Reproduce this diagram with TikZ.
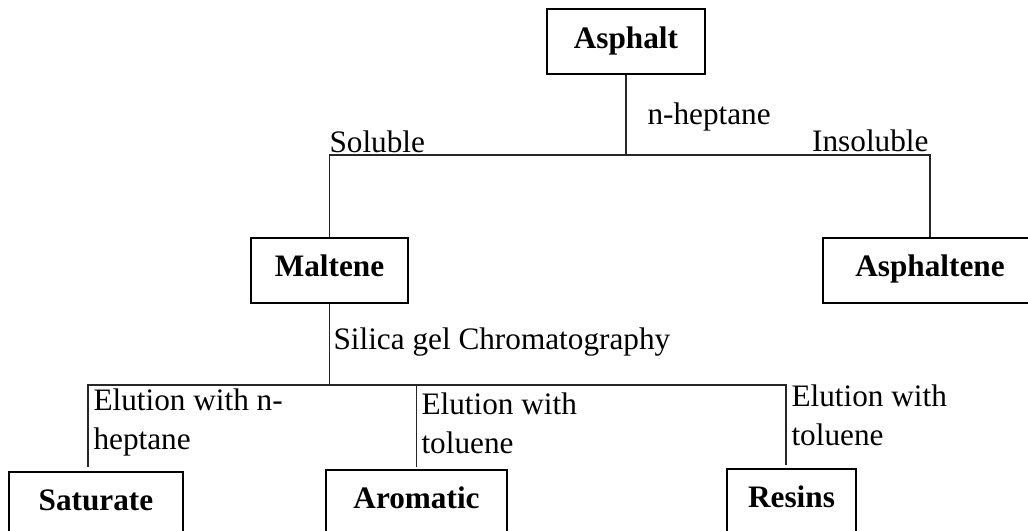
\documentclass[tikz,border=0pt]{standalone}
\usepackage{fontspec}
\setmainfont{Liberation Serif}
\usepackage{tikz}
\usetikzlibrary{calc}
\tikzset{fracbox/.style={draw, line width=0.8pt, minimum height=26pt, inner sep=0pt, text height=9pt, text depth=4pt, font=\fontsize{12.5}{15.6}\selectfont\bfseries},
  lbltext/.style={inner sep=0pt, align=left, font=\fontsize{12.5}{15.6}\selectfont},
  link/.style={line width=0.45pt, draw=black!85}}
\newcommand{\fracnode}[5]{\node[fracbox, minimum width=#4] (#1) at ( #2 , #3 ) {#5};}
\newcommand{\steplabel}[5]{\node[lbltext, anchor=#2] (#1) at ( #3 , #4 ) {#5};}

\begin{document}
\begin{tikzpicture}[x=0.4pt, y=-0.4pt]
\useasboundingbox (0,0) rectangle (1028,531);
\clip (0,0) rectangle (1028,531);
% top fraction
\fracnode{asphalt}{626}{42}{63.2pt}{Asphalt}
% fractions after n-heptane
\fracnode{maltene}{329.5}{270.5}{62.8pt}{Maltene}
\fracnode{asphaltene}{930}{270.5}{85.6pt}{Asphaltene}
% fractions after chromatography
\fracnode{saturate}{96}{504.5}{69.6pt}{Saturate}
\fracnode{aromatic}{416.5}{502.5}{72.4pt}{Aromatic}
\fracnode{resins}{791.5}{501.5}{51.6pt}{Resins}
% labels
\steplabel{heplbl}{base west}{647}{125}{n-heptane}
\steplabel{sollbl}{base west}{329}{153}{Soluble}
\steplabel{insollbl}{base east}{929}{152}{Insoluble}
\steplabel{silicalbl}{base west}{333}{350}{Silica gel Chromatography}
\steplabel{satlbl}{north west}{93}{388}{Elution with n-\\heptane}
\steplabel{aromlbl}{north west}{421}{392}{Elution with\\toluene}
\steplabel{reslbl}{north west}{791}{384}{Elution with\\toluene}
% connectors
\coordinate (hepsplit) at (asphalt.south |- 0,155);
\coordinate (silsplit) at (maltene.south |- 0,385);
\draw[link] (asphalt.south) -- (hepsplit);
\draw[link] (hepsplit) -| (maltene.north);
\draw[link] (hepsplit) -| (asphaltene.north);
\draw[link] (maltene.south) -- (silsplit);
\draw[link] (silsplit) -| ([xshift=-3.2pt, yshift=1.6pt]saturate.north);
\draw[link] (silsplit) -| ([yshift=0.8pt]aromatic.north);
\draw[link] (silsplit) -| ([xshift=-2.2pt, yshift=1.2pt]resins.north);
\end{tikzpicture}
\end{document}
